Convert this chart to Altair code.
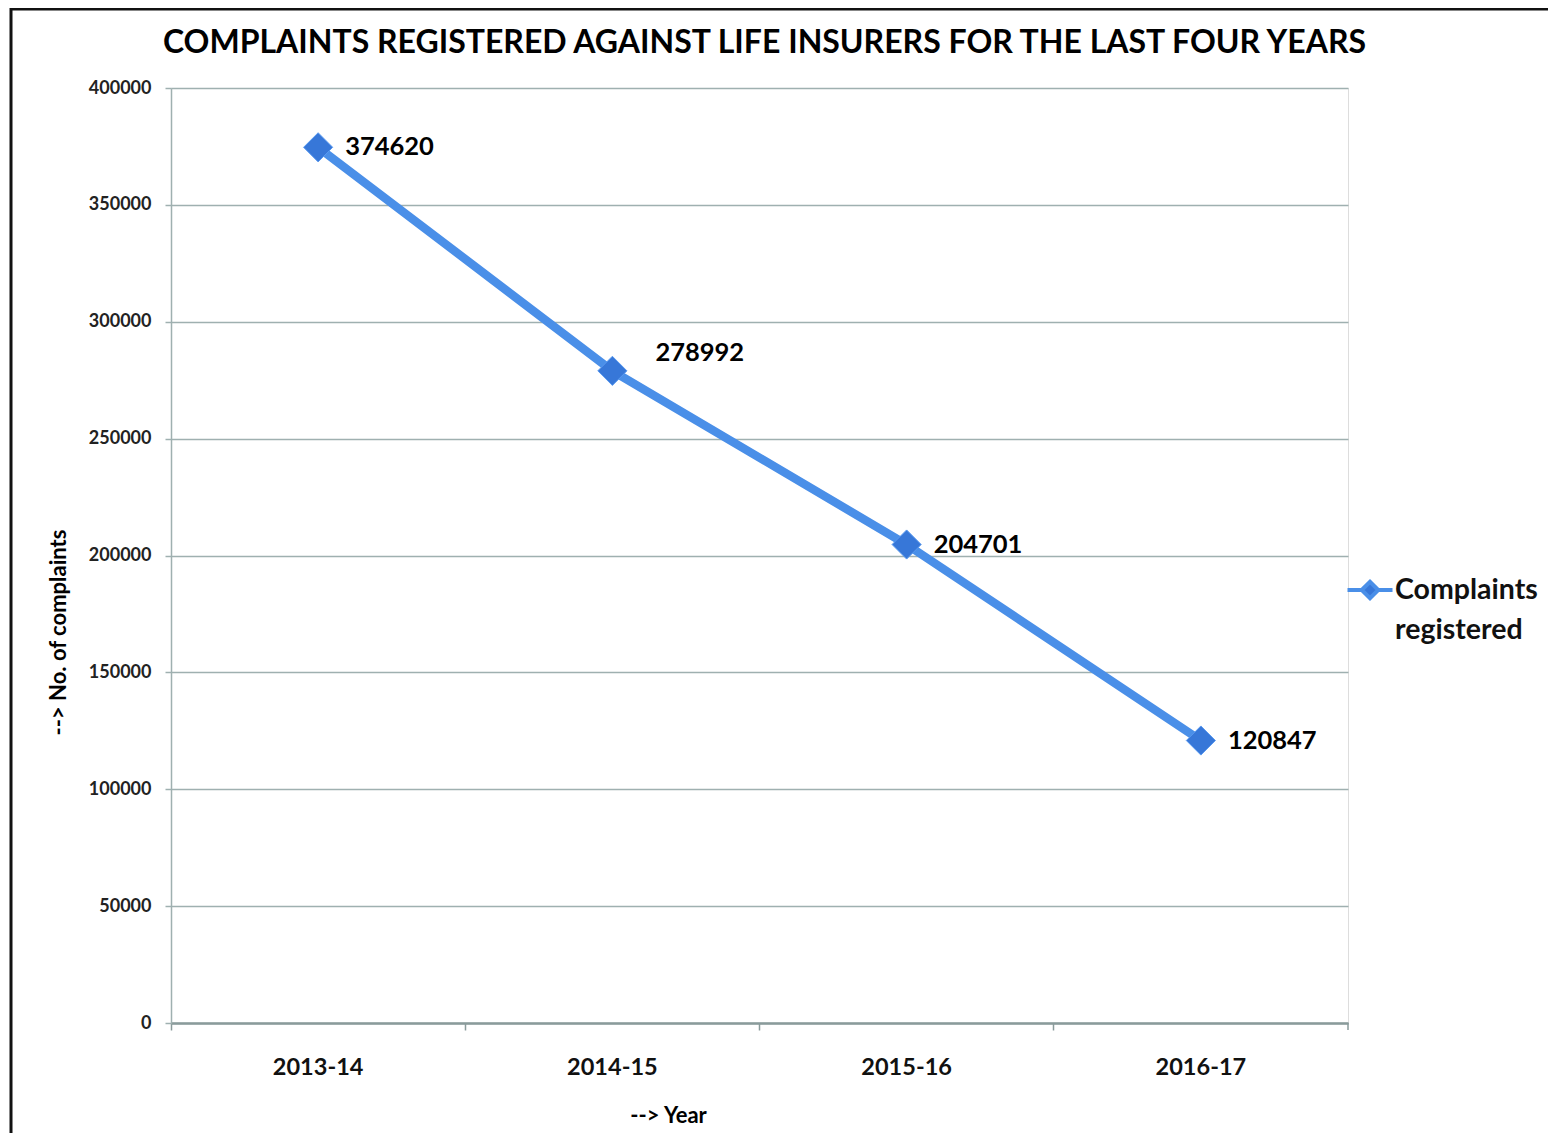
import altair as alt
import pandas as pd

# ---- data ----
years = ["2013-14", "2014-15", "2015-16", "2016-17"]
complaints = [374620, 278992, 204701, 120847]
series_name = "Complaints registered"
y_ticks = [0, 50000, 100000, 150000, 200000, 250000, 300000, 350000, 400000]

df = pd.DataFrame({"year": years, "complaints": complaints, "series": [series_name] * len(years)})

FONT = "Lato"
LINE_BLUE = "#4a8fe8"
MARK_BLUE = "#3777d8"
GRID = "#9fb0b0"

W, H = 1177, 935

xscale = alt.Scale(type="band", paddingInner=0, paddingOuter=0)


def xenc(axis):
    return alt.X("year:N", sort=years, scale=xscale, bandPosition=0.5, axis=axis)


yenc = alt.Y(
    "complaints:Q",
    scale=alt.Scale(domain=[0, 400000], nice=False),
    axis=alt.Axis(
        values=y_ticks,
        format="d",
        title="--> No. of complaints",
        titleFont=FONT,
        titleFontSize=22,
        titleFontWeight="bold",
        titleColor="black",
        titleAngle=270,
        titleX=-113,
        titleY=632 - 88,
        titleBaseline="middle",
        labelFont=FONT,
        labelFontSize=18,
        labelFontWeight="bold",
        labelColor="#222222",
        labelPadding=14,
        tickSize=6,
        tickColor=GRID,
        tickWidth=1.5,
        domainColor=GRID,
        domainWidth=1.5,
        grid=True,
        gridColor=GRID,
        gridWidth=1.5,
    ),
)

tick_axis = alt.Axis(
    orient="bottom",
    bandPosition=0,
    labels=False,
    title=None,
    ticks=True,
    tickSize=7,
    tickColor="#8a9b9b",
    tickWidth=1.5,
    domain=True,
    domainColor="#8a9b9b",
    domainWidth=2.5,
    grid=False,
)

label_axis = alt.Axis(
    orient="bottom",
    title="--> Year",
    titleFont=FONT,
    titleFontSize=22,
    titleFontWeight="bold",
    titleColor="black",
    titleX=497,
    titleY=92,
    titleBaseline="middle",
    labels=True,
    labelAngle=0,
    labelFont=FONT,
    labelFontSize=23.5,
    labelFontWeight="bold",
    labelColor="#111111",
    labelPadding=32,
    ticks=False,
    domain=False,
    grid=False,
)

color = alt.Color(
    "series:N",
    scale=alt.Scale(range=[LINE_BLUE]),
    legend=alt.Legend(
        title=None,
        orient="none",
        legendX=W + 5,
        legendY=485,
        symbolType="M-1.5,0H-0.55 M0.55,0H1.5 M-0.55,0L0,-0.55L0.55,0L0,0.55Z",
        symbolSize=900,
        symbolFillColor=MARK_BLUE,
        symbolStrokeColor=LINE_BLUE,
        symbolStrokeWidth=4,
        labelExpr="split(datum.label, ' ')",
        labelFont=FONT,
        labelFontSize=28.5,
        labelFontWeight="bold",
        labelColor="#111111",
        labelLimit=300,
        labelOffset=8,
    ),
)

base = alt.Chart(df)

line = base.mark_line(strokeWidth=8.5).encode(x=xenc(tick_axis), y=yenc, color=color)

points = base.mark_point(shape="diamond", filled=True, size=850, opacity=1, color=MARK_BLUE,
                         stroke="#5a9af0", strokeWidth=1).encode(x=xenc(label_axis), y=yenc)

label_style = dict(align="left", baseline="middle", font=FONT, fontSize=25.5, fontWeight="bold", color="black")

labels_main = base.transform_filter(alt.datum.year != "2014-15").mark_text(dx=27, dy=0, **label_style).encode(
    x=xenc(None), y=yenc, text=alt.Text("complaints:Q", format="d"))

labels_moved = base.transform_filter(alt.datum.year == "2014-15").mark_text(dx=43, dy=-18, **label_style).encode(
    x=xenc(None), y=yenc, text=alt.Text("complaints:Q", format="d"))

frame_data = alt.Data(values=[{}])
border_left = alt.Chart(frame_data).mark_rule(color="#111111", strokeWidth=3).encode(
    x=alt.value(-160), y=alt.value(-80), y2=alt.value(H + 130))
border_top = alt.Chart(frame_data).mark_rule(color="#111111", strokeWidth=3).encode(
    x=alt.value(-161), x2=alt.value(W + 230), y=alt.value(-79))
end_tick = alt.Chart(frame_data).mark_rule(color="#8a9b9b", strokeWidth=1.5).encode(
    x=alt.value(W), y=alt.value(H), y2=alt.value(H + 7))

chart = (
    alt.layer(line, points, labels_main, labels_moved, border_left, border_top, end_tick)
    .resolve_axis(x="independent")
    .properties(
        width=W,
        height=H,
        autosize=alt.AutoSizeParams(type="none"),
        padding={"left": 163, "top": 80, "right": 200, "bottom": 110},
        title=alt.TitleParams(
            text="COMPLAINTS REGISTERED AGAINST LIFE INSURERS FOR THE LAST  FOUR YEARS",
            font=FONT,
            fontSize=32,
            fontWeight="bold",
            color="black",
            anchor="middle",
            frame="group",
            baseline="alphabetic",
            dx=5,
            offset=-78,
        ),
    )
    .configure_view(stroke=None)
    .configure(background="white", style={"guide-label": {"lineHeight": 40}})
)

chart.save("out.html", embed_options={"renderer": "svg", "actions": False})
